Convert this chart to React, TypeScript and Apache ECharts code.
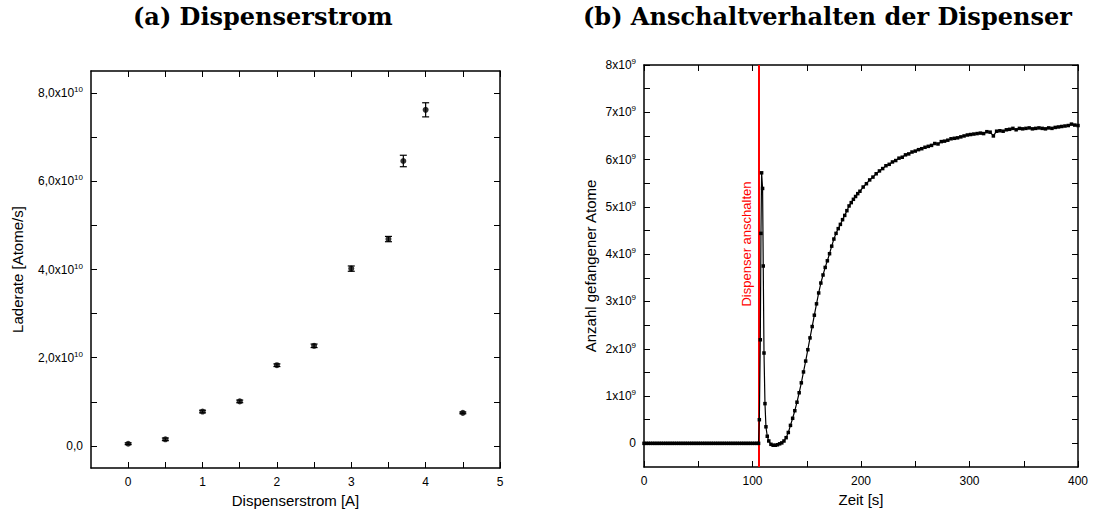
import React, { useEffect, useRef } from "react";
import * as echarts from "echarts";

// ---------- (a) Dispenserstrom ----------
const currentA = [0, 0.5, 1, 1.5, 2, 2.5, 3, 3.5, 3.7, 4, 4.5];
const loadRateE10 = [0.05, 0.15, 0.78, 1.01, 1.83, 2.27, 4.02, 4.69, 6.46, 7.62, 0.75];
const loadRateErrE10 = [0.02, 0.03, 0.03, 0.03, 0.03, 0.04, 0.06, 0.06, 0.13, 0.16, 0.02];
const leftXTicks = [0, 0.5, 1, 1.5, 2, 2.5, 3, 3.5, 4, 4.5, 5];
const leftXLabels = [0, 1, 2, 3, 4, 5];
const leftYTicksE10 = [0, 1, 2, 3, 4, 5, 6, 7, 8];
const leftYLabelsE10 = [0, 2, 4, 6, 8];

// ---------- (b) Anschaltverhalten der Dispenser ----------
const switchOnTime = 105.5;
const timeS = [
  0, 2, 4, 6, 8, 10, 12, 14, 16, 18, 20, 22, 24, 26, 28, 30, 32, 34, 36, 38, 40,
  42, 44, 46, 48, 50, 52, 54, 56, 58, 60, 62, 64, 66, 68, 70, 72, 74, 76, 78, 80,
  82, 84, 86, 88, 90, 92, 94, 96, 98, 100, 102, 104, 105.6,
  106.3, 107.2, 107.8, 108.4, 109.3, 109.9, 110.6, 111.5, 112.4, 113.6,
  115, 117, 119, 121, 123, 125, 127, 129, 131, 133, 135, 137, 139, 141, 143, 145,
  147, 149, 151, 153, 155, 157, 159, 161, 163, 165, 167, 169, 171, 173, 175, 177,
  179, 181, 183, 185, 187, 189, 191, 193, 195, 197, 199,
  202, 205, 208, 211, 214, 217, 220, 223, 226, 229, 232, 235, 238, 241, 244, 247,
  250, 253, 256, 259, 262, 265, 268, 271, 274, 277, 280, 283, 286, 289, 292, 295,
  298, 301, 304, 307, 310, 313, 316, 319, 322, 325, 328, 331, 334, 337, 340, 343,
  346, 349, 352, 355, 358, 361, 364, 367, 370, 373, 376, 379, 382, 385, 388, 391,
  394, 397, 400,
];
const atomsE9 = [
  0, 0, 0, 0, 0, 0, 0, 0, 0, 0, 0, 0, 0, 0, 0, 0, 0, 0, 0, 0, 0,
  0, 0, 0, 0, 0, 0, 0, 0, 0, 0, 0, 0, 0, 0, 0, 0, 0, 0, 0, 0,
  0, 0, 0, 0, 0, 0, 0, 0, 0, 0, 0, 0, 0,
  0.5, 2.19, 4.44, 5.72, 5.39, 3.75, 1.91, 0.84, 0.35, 0.15,
  0.05, -0.02, -0.04, -0.04, -0.03, -0.01, 0.01, 0.05, 0.12, 0.23, 0.38, 0.53, 0.69, 0.87, 1.07, 1.28,
  1.51, 1.74, 1.98, 2.23, 2.47, 2.71, 2.95, 3.18, 3.39, 3.56, 3.72, 3.86, 4.01, 4.17, 4.32, 4.44,
  4.54, 4.63, 4.73, 4.82, 4.92, 5.02, 5.09, 5.16, 5.22, 5.28, 5.33,
  5.42, 5.49, 5.57, 5.63, 5.7, 5.76, 5.81, 5.87, 5.9, 5.95, 5.98, 6.03, 6.05, 6.1, 6.12, 6.16,
  6.18, 6.21, 6.23, 6.26, 6.28, 6.3, 6.34, 6.33, 6.38, 6.39, 6.41, 6.44, 6.45, 6.46, 6.48, 6.5,
  6.52, 6.53, 6.54, 6.55, 6.56, 6.55, 6.59, 6.58, 6.5, 6.6, 6.61, 6.6, 6.63, 6.64, 6.66, 6.63,
  6.66, 6.65, 6.66, 6.67, 6.65, 6.66, 6.67, 6.66, 6.65, 6.67, 6.66, 6.68, 6.69, 6.7, 6.71, 6.72,
  6.75, 6.73, 6.72,
];
const rightXTicks = [0, 50, 100, 150, 200, 250, 300, 350, 400];
const rightXLabels = [0, 100, 200, 300, 400];
const rightYTicksE9 = [0, 0.5, 1, 1.5, 2, 2.5, 3, 3.5, 4, 4.5, 5, 5.5, 6, 6.5, 7, 7.5, 8];
const rightYLabelsE9 = [0, 1, 2, 3, 4, 5, 6, 7, 8];

const SANS = "'Liberation Sans', Arial, sans-serif";
const SERIF = "'DejaVu Serif', serif";

const rich = {
  b: { fontSize: 12, fontFamily: SANS, color: "#000" },
  s: { fontSize: 8, fontFamily: SANS, color: "#000", padding: [0, 0, 7, 0] },
};

function makeAxis(opts: any) {
  const {
    gridIndex, position, min, max, ticks, labels, formatter, name, nameGap, showLabel,
  } = opts;
  return {
    type: "value",
    gridIndex,
    position,
    min,
    max,
    name: name || "",
    nameLocation: "middle",
    nameGap: nameGap || 0,
    nameTextStyle: { fontFamily: SANS, fontSize: 15, color: "#000" },
    axisLine: { show: true, onZero: false, lineStyle: { color: "#000", width: 1.5 } },
    axisTick: {
      show: true,
      inside: true,
      length: 6,
      customValues: ticks,
      lineStyle: { color: "#000", width: 1 },
    },
    axisLabel: {
      show: !!showLabel,
      customValues: labels,
      formatter,
      color: "#000",
      fontFamily: SANS,
      fontSize: 12,
      margin: 8,
      rich,
    },
    splitLine: { show: false },
    minorTick: { show: false },
  };
}

export default function App() {
  const ref = useRef<HTMLDivElement>(null);
  useEffect(() => {
    if (!ref.current) return;
    const chart = echarts.init(ref.current, undefined, { renderer: "svg" });

    const scatterData = currentA.map((x, i) => [x, loadRateE10[i] * 1e10]);
    const errData = currentA.map((x, i) => [x, loadRateE10[i] * 1e10, loadRateErrE10[i] * 1e10]);
    const lineData = timeS.map((t, i) => [t, atomsE9[i] * 1e9]);

    const option: any = {
      animation: false,
      backgroundColor: "#fff",
      title: [
        {
          text: "(a) Dispenserstrom",
          left: 133,
          top: 4,
          padding: 0,
          textStyle: { fontFamily: SERIF, fontWeight: "bold", fontSize: 24, color: "#000" },
        },
        {
          text: "(b) Anschaltverhalten der Dispenser",
          left: 583,
          top: 4,
          padding: 0,
          textStyle: { fontFamily: SERIF, fontWeight: "bold", fontSize: 24, color: "#000" },
        },
      ],
      grid: [
        { left: 91, top: 71, width: 409, height: 397, containLabel: false },
        { left: 644, top: 65, width: 434, height: 402, containLabel: false },
      ],
      xAxis: [
        makeAxis({
          gridIndex: 0, position: "bottom", min: -0.5, max: 5, ticks: leftXTicks, labels: leftXLabels,
          showLabel: true, formatter: (v: number) => String(v), name: "Dispenserstrom [A]", nameGap: 22,
        }),
        makeAxis({ gridIndex: 0, position: "top", min: -0.5, max: 5, ticks: leftXTicks, labels: [] }),
        makeAxis({
          gridIndex: 1, position: "bottom", min: 0, max: 400, ticks: rightXTicks, labels: rightXLabels,
          showLabel: true, formatter: (v: number) => String(v), name: "Zeit [s]", nameGap: 23,
        }),
        makeAxis({ gridIndex: 1, position: "top", min: 0, max: 400, ticks: rightXTicks, labels: [] }),
      ],
      yAxis: [
        makeAxis({
          gridIndex: 0, position: "left", min: -0.5e10, max: 8.5e10,
          ticks: leftYTicksE10.map((v) => v * 1e10), labels: leftYLabelsE10.map((v) => v * 1e10),
          showLabel: true,
          formatter: (v: number) => {
            const m = Math.round(v / 1e9) / 10;
            if (m === 0) return "{b|0,0}";
            return "{b|" + m.toFixed(1).replace(".", ",") + "x10}{s|10}";
          },
          name: "Laderate [Atome/s]", nameGap: 66,
        }),
        makeAxis({
          gridIndex: 0, position: "right", min: -0.5e10, max: 8.5e10,
          ticks: leftYTicksE10.map((v) => v * 1e10), labels: [],
        }),
        makeAxis({
          gridIndex: 1, position: "left", min: -0.5e9, max: 8e9,
          ticks: rightYTicksE9.map((v) => v * 1e9), labels: rightYLabelsE9.map((v) => v * 1e9),
          showLabel: true,
          formatter: (v: number) => {
            const m = Math.round(v / 1e9);
            if (m === 0) return "{b|0}";
            return "{b|" + m + "x10}{s|9}";
          },
          name: "Anzahl gefangener Atome", nameGap: 46,
        }),
        makeAxis({
          gridIndex: 1, position: "right", min: -0.5e9, max: 8e9,
          ticks: rightYTicksE9.map((v) => v * 1e9), labels: [],
        }),
      ],
      series: [
        {
          type: "custom",
          xAxisIndex: 0,
          yAxisIndex: 0,
          data: errData,
          encode: { x: 0, y: 1 },
          renderItem: (params: any, api: any) => {
            const x = api.value(0);
            const y = api.value(1);
            const e = api.value(2);
            const top = api.coord([x, y + e]);
            const bot = api.coord([x, y - e]);
            const w = 3.5;
            const st = { stroke: "#000", lineWidth: 1.2 };
            return {
              type: "group",
              children: [
                { type: "line", shape: { x1: top[0], y1: top[1], x2: bot[0], y2: bot[1] }, style: st },
                { type: "line", shape: { x1: top[0] - w, y1: top[1], x2: top[0] + w, y2: top[1] }, style: st },
                { type: "line", shape: { x1: bot[0] - w, y1: bot[1], x2: bot[0] + w, y2: bot[1] }, style: st },
              ],
            };
          },
          z: 2,
        },
        {
          type: "scatter",
          xAxisIndex: 0,
          yAxisIndex: 0,
          data: scatterData,
          symbol: "circle",
          symbolSize: 6,
          itemStyle: { color: "#000" },
          z: 3,
        },
        {
          type: "line",
          xAxisIndex: 2,
          yAxisIndex: 2,
          data: lineData,
          symbol: "rect",
          symbolSize: 3.5,
          showSymbol: true,
          showAllSymbol: true,
          itemStyle: { color: "#000" },
          lineStyle: { color: "#000", width: 1.2 },
          z: 3,
          markLine: {
            silent: true,
            symbol: "none",
            label: { show: false },
            lineStyle: { color: "#ff0000", width: 2, type: "solid" },
            data: [{ xAxis: switchOnTime }],
            z: 2,
          },
        },
      ],
      graphic: [
        {
          type: "text",
          x: 746,
          y: 244,
          rotation: Math.PI / 2,
          style: {
            text: "Dispenser anschalten",
            fill: "#ff0000",
            font: "13px 'Liberation Sans', Arial, sans-serif",
            align: "center",
            verticalAlign: "middle",
          },
        },
      ],
    };
    chart.setOption(option);
    return () => chart.dispose();
  }, []);
  return (
    <div
      ref={ref}
      style={{ position: "fixed", left: 0, top: 0, width: 1094, height: 514, background: "#fff" }}
    />
  );
}
